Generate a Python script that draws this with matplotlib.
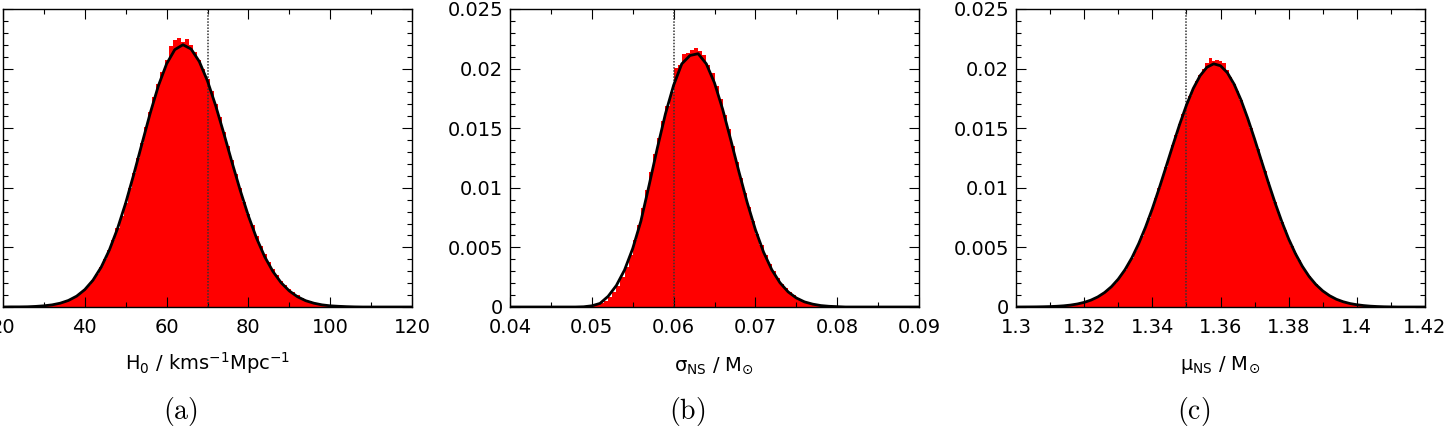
import numpy as np
import matplotlib.pyplot as plt
from matplotlib.ticker import FixedLocator, MultipleLocator

plt.rcParams['font.family'] = ['DejaVu Sans']
plt.rcParams['mathtext.fontset'] = 'dejavusans'

# ---- panel (a): H0 posterior ----
h0_bin_start, h0_bin_width = 25.5, 1.0
h0_hist = [
    0.00003, 0.00004, 0.00006, 0.00008, 0.00011, 0.00014, 0.00019, 0.00025, 0.00033, 0.00043,
    0.00056, 0.00072, 0.00092, 0.00117, 0.00147, 0.00183, 0.00226, 0.00277, 0.00336, 0.00402,
    0.00480, 0.00566, 0.00660, 0.00765, 0.00876, 0.00995, 0.01120, 0.01250, 0.01378, 0.01510,
    0.01636, 0.01758, 0.01870, 0.01975, 0.02075, 0.02190, 0.02240, 0.02255, 0.02225, 0.02250,
    0.02200, 0.02140, 0.02075, 0.02000, 0.01910, 0.01815, 0.01705, 0.01590, 0.01470, 0.01350,
    0.01230, 0.01112, 0.00995, 0.00885, 0.00780, 0.00685, 0.00595, 0.00515, 0.00442, 0.00377,
    0.00318, 0.00266, 0.00222, 0.00183, 0.00150, 0.00122, 0.00098, 0.00078, 0.00062, 0.00048,
    0.00037, 0.00028, 0.00021, 0.00016, 0.00012, 0.00009, 0.00006, 0.00004, 0.00003, 0.00002,
    0.00001]
h0_fit_x = np.arange(20, 121, 2)
h0_fit_y = [
    0, 0.00001, 0.00001, 0.00002, 0.00005, 0.0001, 0.00018, 0.00032, 0.00055, 0.00091,
    0.00146, 0.00225, 0.00334, 0.00478, 0.00658, 0.00873, 0.01116, 0.01373, 0.01627, 0.01857,
    0.0204, 0.02159, 0.022, 0.02164, 0.02059, 0.01896, 0.01689, 0.01455, 0.01213, 0.00979,
    0.00764, 0.00577, 0.00421, 0.00298, 0.00204, 0.00135, 0.00086, 0.00053, 0.00032, 0.00018,
    0.0001, 0.00006, 0.00003, 0.00001, 0, 0, 0, 0, 0, 0, 0]
h0_true = 70
h0_ticks = [20, 40, 60, 80, 100, 120]
h0_ticklabels = ['20', '40', '60', '80', '100', '120']

# ---- panel (b): sigma_NS posterior ----
sig_bin_start, sig_bin_width = 0.0475, 0.0005
sig_hist = [
    0.00001, 0.00001, 0.00002, 0.00003, 0.00006, 0.00011, 0.00019, 0.00032, 0.00052, 0.00082,
    0.00124, 0.00178, 0.00250, 0.00338, 0.00440, 0.00558, 0.00690, 0.00832, 0.00985, 0.01135,
    0.01280, 0.01420, 0.01560, 0.01690, 0.01800, 0.02005, 0.02030, 0.02120, 0.02135, 0.02160,
    0.02175, 0.02150, 0.02110, 0.02030, 0.01960, 0.01850, 0.01745, 0.01610, 0.01490, 0.01350,
    0.01215, 0.01085, 0.00955, 0.00835, 0.00720, 0.00615, 0.00520, 0.00435, 0.00362, 0.00298,
    0.00243, 0.00196, 0.00158, 0.00125, 0.00098, 0.00076, 0.00058, 0.00044, 0.00033, 0.00024,
    0.00017, 0.00012, 0.00009, 0.00006, 0.00004, 0.00003, 0.00002, 0.00001, 0.00001]
sig_fit_x = np.linspace(0.040, 0.090, 51)
sig_fit_y = [
    0, 0, 0, 0, 0, 0, 0, 0, 0, 0.00002,
    0.0001, 0.0003, 0.0009, 0.0018, 0.0031, 0.0049, 0.0072, 0.0102, 0.0133, 0.0162,
    0.0186, 0.0204, 0.0211, 0.02125, 0.0204, 0.0188, 0.01658, 0.01399, 0.01131, 0.00876,
    0.00649, 0.0046, 0.00313, 0.00204, 0.00127, 0.00076, 0.00043, 0.00024, 0.00012, 0.00006,
    0.00003, 0, 0, 0, 0, 0, 0, 0, 0, 0, 0]
sig_true = 0.06
sig_ticks = [0.04, 0.05, 0.06, 0.07, 0.08, 0.09]
sig_ticklabels = ['0.04', '0.05', '0.06', '0.07', '0.08', '0.09']

# ---- panel (c): mu_NS posterior ----
mu_bin_start, mu_bin_width = 1.3045, 0.001
mu_hist = [
    0.00001, 0.00001, 0.00002, 0.00002, 0.00003, 0.00004, 0.00005, 0.00006, 0.00008, 0.00010,
    0.00013, 0.00016, 0.00020, 0.00025, 0.00031, 0.00039, 0.00047, 0.00058, 0.00070, 0.00085,
    0.00102, 0.00122, 0.00145, 0.00171, 0.00201, 0.00234, 0.00272, 0.00314, 0.00362, 0.00413,
    0.00470, 0.00532, 0.00599, 0.00670, 0.00748, 0.00830, 0.00912, 0.00998, 0.01085, 0.01176,
    0.01268, 0.01357, 0.01446, 0.01533, 0.01616, 0.01695, 0.01768, 0.01836, 0.01895, 0.01950,
    0.02000, 0.02045, 0.02090, 0.02060, 0.02075, 0.02060, 0.02050, 0.01985, 0.01930, 0.01875,
    0.01810, 0.01740, 0.01665, 0.01585, 0.01500, 0.01412, 0.01322, 0.01230, 0.01140, 0.01050,
    0.00962, 0.00877, 0.00795, 0.00717, 0.00643, 0.00573, 0.00508, 0.00449, 0.00393, 0.00343,
    0.00298, 0.00257, 0.00221, 0.00189, 0.00161, 0.00136, 0.00114, 0.00096, 0.00080, 0.00066,
    0.00054, 0.00045, 0.00037, 0.00030, 0.00024, 0.00019, 0.00015, 0.00012, 0.00009, 0.00007,
    0.00005, 0.00004, 0.00003, 0.00002, 0.00002, 0.00001]
mu_fit_x = np.linspace(1.30, 1.42, 61)
mu_fit_y = [
    0, 0.000004, 0.000007, 0.000012, 0.000022, 0.000037, 0.000062, 0.000101, 0.000162, 0.000253,
    0.000387, 0.000579, 0.000848, 0.001216, 0.001705, 0.00234, 0.00314, 0.00413, 0.00532, 0.0067,
    0.00825, 0.00995, 0.01174, 0.01355, 0.01531, 0.01693, 0.01833, 0.0194, 0.02011, 0.0204,
    0.02024, 0.01966, 0.01869, 0.01738, 0.01582, 0.01409, 0.01228, 0.01048, 0.00875, 0.00715,
    0.00571, 0.00447, 0.00342, 0.00256, 0.00188, 0.00135, 0.00095, 0.00065, 0.00044, 0.00029,
    0.00019, 0.00012, 0.00007, 0.00004, 0.00002, 0.00001, 0, 0, 0, 0, 0]
mu_true = 1.35
mu_ticks = [1.30, 1.32, 1.34, 1.36, 1.38, 1.40, 1.42]
mu_ticklabels = ['1.3', '1.32', '1.34', '1.36', '1.38', '1.4', '1.42']

y_ticks = [0, 0.005, 0.01, 0.015, 0.02, 0.025]
y_ticklabels = ['0', '0.005', '0.01', '0.015', '0.02', '0.025']

xlabels = [r'H$_0$ / kms$^{-1}$Mpc$^{-1}$',
           r'σ$_{\mathrm{NS}}$ / M$_{\odot}$',
           r'μ$_{\mathrm{NS}}$ / M$_{\odot}$']
panel_tags = ['(a)', '(b)', '(c)']

W, H = 1444, 432
fig = plt.figure(figsize=(W / 100, H / 100), dpi=100)

panels = [
    (3, h0_bin_start, h0_bin_width, h0_hist, h0_fit_x, h0_fit_y, h0_true,
     h0_ticks, h0_ticklabels, 10),
    (510, sig_bin_start, sig_bin_width, sig_hist, sig_fit_x, sig_fit_y, sig_true,
     sig_ticks, sig_ticklabels, 0.005),
    (1016, mu_bin_start, mu_bin_width, mu_hist, mu_fit_x, mu_fit_y, mu_true,
     mu_ticks, mu_ticklabels, 0.01),
]

for i, (left, b0, bw, hist, fx, fy, truth, xt, xtl, xminor) in enumerate(panels):
    ax = fig.add_axes([left / W, 125 / H, 409 / W, 298 / H])
    edges = b0 + bw * np.arange(len(hist) + 1)
    ax.stairs(hist, edges, fill=True, color='#ff0000', lw=0, zorder=1)
    ax.axvline(truth, color='#333333', ls=(0, (1, 1)), lw=1.1, zorder=2)
    ax.plot(fx, fy, color='black', lw=2.0, zorder=3)

    ax.set_xlim(xt[0], xt[-1])
    ax.set_ylim(0, 0.025)
    ax.xaxis.set_major_locator(FixedLocator(xt))
    ax.set_xticklabels(xtl)
    ax.xaxis.set_minor_locator(MultipleLocator(xminor))
    ax.yaxis.set_major_locator(FixedLocator(y_ticks))
    ax.set_yticklabels(y_ticklabels)
    ax.yaxis.set_minor_locator(MultipleLocator(0.001))

    ax.tick_params(which='both', direction='in', top=True, right=True,
                   width=0.8, labelsize=14)
    ax.tick_params(which='major', length=7)
    ax.tick_params(which='minor', length=3.5)
    ax.tick_params(axis='x', which='major', pad=8)
    ax.tick_params(axis='y', which='major', pad=5)
    if i == 0:
        # left panel is cropped in the source: its y labels fall outside the frame
        ax.tick_params(axis='y', labelleft=False)
    for s in ax.spines.values():
        s.set_linewidth(1.0)

    ax.set_xlabel(xlabels[i], fontsize=14, va='baseline')
    ax.xaxis.set_label_coords(0.5, -0.212)

    pos = ax.get_position()
    fig.text(pos.x0 + pos.width / 2 - 27 / W, (H - 412) / H,
             r'$\mathrm{' + panel_tags[i] + '}$', ha='center', va='center',
             fontsize=20, math_fontfamily='cm')

fig.savefig('out.png', dpi=100)
